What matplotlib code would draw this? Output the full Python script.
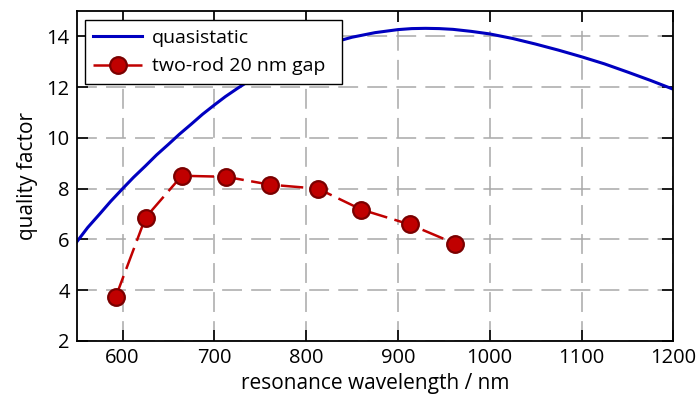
import matplotlib.pyplot as plt
import numpy as np

plt.rcParams['font.family'] = ['Open Sans', 'DejaVu Sans']

# quasistatic curve
qs_wl = [550, 562, 575, 587, 600, 612, 625, 637, 650, 662, 675, 687, 700, 712, 725, 737, 750,
         775, 800, 825, 850, 875, 900, 915, 930, 945, 960, 980, 1000, 1025, 1050, 1075,
         1100, 1125, 1150, 1175, 1200]
qs_q = [5.9, 6.47, 7.0, 7.5, 8.0, 8.45, 8.9, 9.33, 9.75, 10.15, 10.55, 10.93, 11.3, 11.63, 11.95,
        12.23, 12.5, 12.98, 13.4, 13.72, 13.97, 14.15, 14.27, 14.31, 14.32, 14.31, 14.28, 14.2,
        14.1, 13.92, 13.7, 13.46, 13.2, 12.92, 12.6, 12.27, 11.92]

# two-rod 20 nm gap
rod_wl = [592.5, 625, 664.5, 712.5, 760.5, 813, 860, 913, 962]
rod_q = [3.73, 6.86, 8.51, 8.47, 8.16, 8.0, 7.18, 6.59, 5.84]

fig = plt.figure(figsize=(6.97, 3.96), dpi=100)
ax = fig.add_axes([0.110, 0.139, 0.856, 0.833])

ax.grid(True, color='#a8a8a8', linestyle=(0, (13, 6)), linewidth=1.1)
ax.set_axisbelow(True)

ax.plot(qs_wl, qs_q, color='#0000c0', lw=2.2, label='quasistatic')
ax.plot(rod_wl, rod_q, color='#c00000', lw=1.8, linestyle=(0, (9, 3)),
        marker='o', markersize=12, markerfacecolor='#c00000',
        markeredgecolor='#7a0000', markeredgewidth=1.6,
        label='two-rod 20 nm gap')

ax.set_xlim(550, 1200)
ax.set_ylim(2, 15)
ax.set_xticks([600, 700, 800, 900, 1000, 1100, 1200])
ax.set_yticks([2, 4, 6, 8, 10, 12, 14])
ax.tick_params(direction='in', length=8, width=1.2, top=True, right=True, labelsize=14.5, pad=5)
for s in ax.spines.values():
    s.set_linewidth(1.3)

ax.set_xlabel('resonance wavelength / nm', fontsize=15, labelpad=4)
ax.set_ylabel('quality factor', fontsize=15, labelpad=6)

leg = ax.legend(loc='upper left', bbox_to_anchor=(0.0134, 0.0, 0.431, 0.973), mode='expand',
                fontsize=14, fancybox=False, framealpha=1,
                edgecolor='black', borderaxespad=0, handlelength=2.5,
                borderpad=0.45, labelspacing=0.55, handletextpad=0.5)
leg.get_frame().set_linewidth(1.0)

fig.savefig('out.png', dpi=100)
